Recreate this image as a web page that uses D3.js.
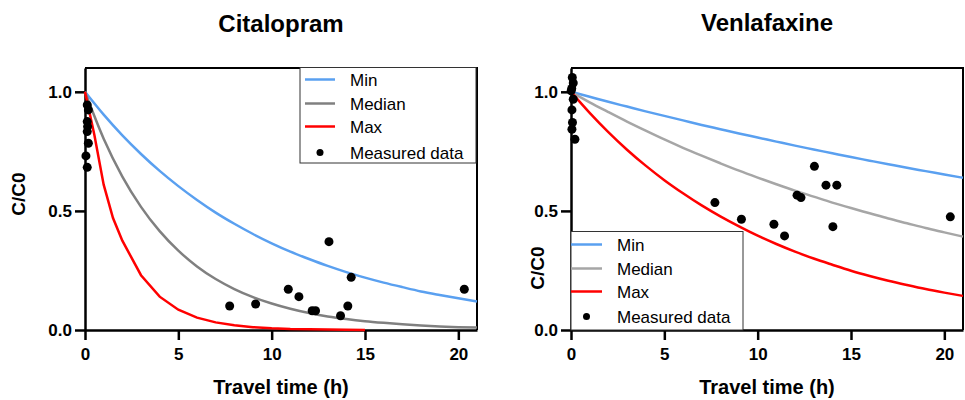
<!DOCTYPE html>
<html>
<head>
<meta charset="utf-8">
<script src="https://cdn.jsdelivr.net/npm/d3@7"></script>
<style>
  body { margin: 0; background: #fff; }
  text { font-family: "Liberation Sans", Arial, sans-serif; }
</style>
</head>
<body>
<svg width="965" height="400"></svg>
<script>
// model curves (C/C0 vs travel time in hours)
const hours = [0,1,2,3,4,5,6,7,8,9,10,11,12,13,14,15,16,17,18,19,20,21];

const citMin = [1.00,0.904,0.817,0.739,0.668,0.604,0.546,0.493,0.446,0.403,0.364,0.329,0.298,0.269,0.243,0.220,0.199,0.180,0.162,0.147,0.133,0.120];
const citMedian = [1.00,0.803,0.644,0.517,0.415,0.333,0.267,0.214,0.172,0.138,0.111,0.089,0.071,0.057,0.046,0.037,0.030,0.024,0.019,0.015,0.012,0.010];
const citMaxHours = [0,0.5,1,1.5,2,3,4,5,6,7,8,9,10,11,12,13,14,15];
const citMax = [1.00,0.82,0.61,0.47,0.375,0.23,0.14,0.085,0.052,0.032,0.020,0.012,0.007,0.004,0.003,0.002,0.001,0.0];

const venMin = [1.00,0.979,0.958,0.938,0.918,0.899,0.880,0.861,0.843,0.825,0.808,0.791,0.774,0.758,0.742,0.726,0.711,0.696,0.681,0.667,0.653,0.639];
const venMedian = [1.00,0.956,0.915,0.875,0.837,0.800,0.765,0.732,0.700,0.669,0.640,0.612,0.585,0.560,0.535,0.512,0.490,0.468,0.448,0.428,0.410,0.392];
const venMax = [1.00,0.912,0.831,0.757,0.690,0.629,0.574,0.523,0.477,0.435,0.396,0.361,0.329,0.300,0.274,0.249,0.227,0.207,0.189,0.172,0.157,0.143];

// measured data
const citMeasT = [0.12,0.18,0.12,0.14,0.12,0.18,0.05,0.12,7.75,9.14,10.89,11.46,12.17,12.35,13.07,13.69,14.08,14.26,20.32];
const citMeasC = [0.945,0.924,0.875,0.854,0.833,0.784,0.731,0.683,0.101,0.109,0.171,0.140,0.081,0.081,0.371,0.060,0.101,0.221,0.171];

const venMeasT = [0.07,0.12,0.04,0.01,0.12,0.05,0.08,0.05,0.21,7.71,9.13,10.87,11.44,12.11,12.32,13.04,13.66,14.24,14.03,20.32];
const venMeasC = [1.06,1.037,1.014,1.004,0.969,0.924,0.871,0.843,0.801,0.535,0.465,0.444,0.395,0.566,0.556,0.687,0.608,0.608,0.434,0.475];

const xTicks = [0,5,10,15,20];
const yTicks = [0,0.5,1];
const legendLabels = ["Min","Median","Max","Measured data"];

const svg = d3.select("svg");
const blue = "#5aa0f0", red = "#ff0000";

function panel(cfg) {
  let g = svg.append("g");
  let x = d3.scaleLinear().domain([0,21]).range([cfg.left, cfg.left + 392]);
  let y = d3.scaleLinear().domain([0,1.1]).range([330,68]);

  // top + right frame
  g.append("path")
    .attr("d", `M${x(0)},${y(1.1)}H${x(21)}V${y(0)}`)
    .attr("fill","none").attr("stroke","#000").attr("stroke-width",2);

  let ax = g.append("g").attr("transform", `translate(0,${y(0)})`)
    .call(d3.axisBottom(x).tickValues(xTicks).tickSize(10).tickSizeOuter(0).tickPadding(8).tickFormat(d3.format("d")));
  let ay = g.append("g").attr("transform", `translate(${x(0)},0)`)
    .call(d3.axisLeft(y).tickValues(yTicks).tickSize(10).tickSizeOuter(0).tickPadding(3).tickFormat(d3.format(".1f")));
  [ax, ay].forEach(a => {
    a.select(".domain").attr("stroke","#000").attr("stroke-width",2.5);
    a.selectAll(".tick line").attr("stroke","#000").attr("stroke-width",2.5);
    a.selectAll(".tick text").attr("fill","#000").style("font-size","17px").style("font-weight","bold");
  });

  // titles
  g.append("text").attr("x", (x(0)+x(21))/2).attr("y", cfg.titleY)
    .attr("text-anchor","middle").style("font-size","24px").style("font-weight","bold").text(cfg.title);
  g.append("text").attr("x", (x(0)+x(21))/2).attr("y", 394)
    .attr("text-anchor","middle").style("font-size","20px").style("font-weight","bold").text("Travel time (h)");
  g.append("text").attr("transform", `translate(${cfg.ylabX},${cfg.ylabY}) rotate(-90)`)
    .attr("text-anchor","middle").style("font-size","19px").style("font-weight","bold").text("C/C0");

  // curves
  cfg.curves.forEach(c => {
    let line = d3.line().x(d => x(d[0])).y(d => y(d[1])).curve(c.smooth ? d3.curveMonotoneX : d3.curveLinear);
    g.append("path")
      .datum(c.t.map((t,i) => [t, c.v[i]]))
      .attr("d", line)
      .attr("fill","none").attr("stroke", c.color).attr("stroke-width",2.5);
  });

  // measured points
  g.selectAll("circle.pt")
    .data(cfg.measT.map((t,i) => [t, cfg.measC[i]]))
    .enter().append("circle")
    .attr("class","pt")
    .attr("cx", d => x(d[0]))
    .attr("cy", d => y(d[1]))
    .attr("r", 4.5)
    .attr("fill","#000");

  // legend
  let L = cfg.legend;
  let lg = g.append("g");
  lg.append("rect").attr("x", L.x).attr("y", L.y).attr("width", L.w).attr("height", L.h)
    .attr("fill","#fff").attr("stroke","#333").attr("stroke-width",1);
  legendLabels.forEach((lab, i) => {
    let ry = L.y + L.rows[i];
    if (i < 3) {
      lg.append("line").attr("x1", L.x + L.l1).attr("x2", L.x + L.l2)
        .attr("y1", ry).attr("y2", ry)
        .attr("stroke", cfg.curves[i].color).attr("stroke-width",2.5);
    } else {
      lg.append("circle").attr("cx", L.x + (L.l1 + L.l2)/2).attr("cy", ry).attr("r",3.5).attr("fill","#000");
    }
    lg.append("text").attr("x", L.x + L.tx).attr("y", ry + 6)
      .style("font-size","17px").attr("fill","#000").text(lab);
  });
}

panel({
  left: 85, title: "Citalopram", titleY: 32, ylabX: 25, ylabY: 194,
  curves: [
    {t: hours, v: citMin, color: blue, smooth: true},
    {t: hours, v: citMedian, color: "#808080", smooth: true},
    {t: citMaxHours, v: citMax, color: red}
  ],
  measT: citMeasT, measC: citMeasC,
  legend: {x: 300, y: 67.5, w: 176, h: 95.5, rows: [12, 36, 59, 85], l1: 5, l2: 35, tx: 50}
});

panel({
  left: 571, title: "Venlafaxine", titleY: 31, ylabX: 544, ylabY: 268,
  curves: [
    {t: hours, v: venMin, color: blue, smooth: true},
    {t: hours, v: venMedian, color: "#a6a6a6", smooth: true},
    {t: hours, v: venMax, color: red, smooth: true}
  ],
  measT: venMeasT, measC: venMeasC,
  legend: {x: 571, y: 231.5, w: 172, h: 98.5, rows: [13, 37, 60, 85], l1: 0, l2: 31, tx: 46}
});
</script>
</body>
</html>
